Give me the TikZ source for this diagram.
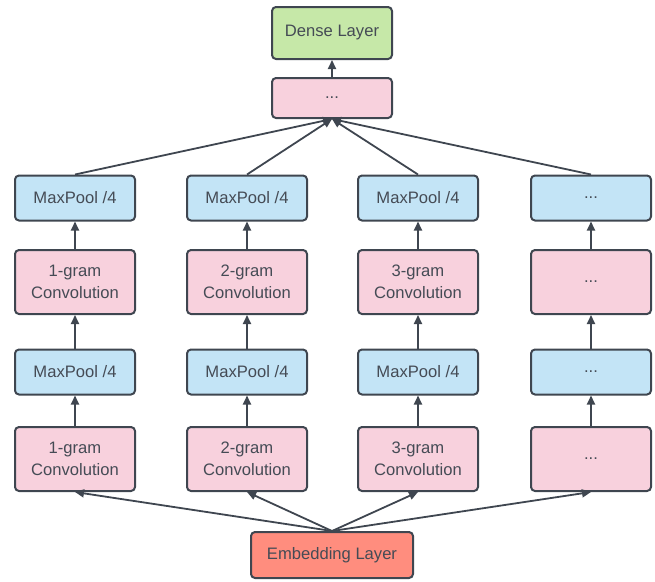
\documentclass[tikz,border=0pt]{standalone}
\usepackage{fontspec}
\setmainfont{Liberation Sans}
\usepackage{tikz}
\usetikzlibrary{arrows.meta}

\definecolor{edgegray}{HTML}{3F4650}
\definecolor{textgray}{HTML}{454B55}
\definecolor{densegreen}{HTML}{C6E8A8}
\definecolor{convpink}{HTML}{F8D1DD}
\definecolor{poolblue}{HTML}{C3E4F6}
\definecolor{embedred}{HTML}{FF8D7E}

\tikzset{
  box/.style={draw=edgegray,line width=2pt,rounded corners=4pt,text=textgray,
    font=\fontsize{16.6}{22}\selectfont,align=center,minimum width=120pt},
  pool/.style={box,fill=poolblue,minimum height=45pt},
  conv/.style={box,fill=convpink,minimum height=64pt},
  link/.style={draw=edgegray,line width=1.8pt,-{Triangle[length=9pt,width=8pt]}}
}

\begin{document}
\begin{tikzpicture}[x=1pt,y=-1pt]
        \useasboundingbox (0,0) rectangle (655,581);
        % top
        \node[box,fill=densegreen,minimum height=52pt] (dense) at (332,33) {Dense Layer};
        \node[box,fill=convpink,minimum height=40pt] (merge) at (332,98) {...};
        \node[box,fill=embedred,minimum width=162pt,minimum height=46pt] (embed) at (332,555) {Embedding Layer};
        % upper pooling row
        \node[pool] (poolA2) at (75,198) {MaxPool /4};
        \node[pool] (poolB2) at (247,198) {MaxPool /4};
        \node[pool] (poolC2) at (418,198) {MaxPool /4};
        \node[pool] (poolD2) at (591,198) {...};
        % upper convolution row
        \node[conv] (convA2) at (75,282) {1-gram\\Convolution};
        \node[conv] (convB2) at (247,282) {2-gram\\Convolution};
        \node[conv] (convC2) at (418,282) {3-gram\\Convolution};
        \node[conv] (convD2) at (591,282) {...};
        % lower pooling row
        \node[pool] (poolA1) at (75,372) {MaxPool /4};
        \node[pool] (poolB1) at (247,372) {MaxPool /4};
        \node[pool] (poolC1) at (418,372) {MaxPool /4};
        \node[pool] (poolD1) at (591,372) {...};
        % lower convolution row
        \node[conv] (convA1) at (75,459) {1-gram\\Convolution};
        \node[conv] (convB1) at (247,459) {2-gram\\Convolution};
        \node[conv] (convC1) at (418,459) {3-gram\\Convolution};
        \node[conv] (convD1) at (591,459) {...};
        % connectors
        \draw[link] (merge) -- (dense);
        \foreach \c in {A,B,C,D} {
          \draw[link] (embed.north) -- (conv\c1.south);
          \draw[link] (conv\c1) -- (pool\c1);
          \draw[link] (pool\c1) -- (conv\c2);
          \draw[link] (conv\c2) -- (pool\c2);
          \draw[link] (pool\c2.north) -- (merge.south);
        }
\end{tikzpicture}
\end{document}
